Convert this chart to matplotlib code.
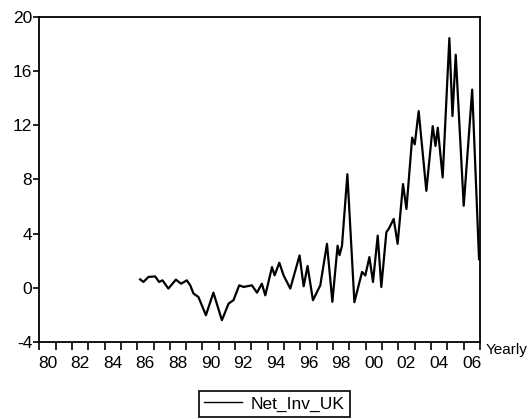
import matplotlib
matplotlib.use("Agg")
import matplotlib.pyplot as plt
from matplotlib.ticker import FixedLocator, NullFormatter

plt.rcParams['font.family'] = ['Liberation Sans', 'DejaVu Sans']
plt.rcParams['axes.unicode_minus'] = False

# Net_Inv_UK (x in decimal years)
years = [1986.18, 1986.38, 1986.69, 1987.10, 1987.34, 1987.55, 1987.91,
         1988.37, 1988.69, 1989.04, 1989.25, 1989.45, 1989.75, 1990.21,
         1990.67, 1991.19, 1991.60, 1991.90, 1992.25, 1992.52, 1993.03,
         1993.34, 1993.64, 1993.85, 1994.26, 1994.42, 1994.71, 1994.97,
         1995.38, 1995.95, 1996.20, 1996.44, 1996.77, 1997.22, 1997.63,
         1997.96, 1998.28, 1998.40, 1998.55, 1998.88, 1999.31, 1999.78,
         1999.98, 2000.23, 2000.45, 2000.74, 2000.96, 2001.27, 2001.41,
         2001.72, 2001.96, 2002.29, 2002.50, 2002.85, 2003.01, 2003.25,
         2003.72, 2004.11, 2004.28, 2004.42, 2004.72, 2005.13, 2005.32,
         2005.52, 2006.01, 2006.53, 2006.95]
net_inv_uk = [0.61, 0.42, 0.79, 0.83, 0.42, 0.54, -0.07,
              0.59, 0.29, 0.54, 0.17, -0.44, -0.69, -2.04,
              -0.37, -2.41, -1.18, -0.93, 0.17, 0.05, 0.17,
              -0.37, 0.29, -0.57, 1.52, 0.91, 1.84, 0.91,
              -0.07, 2.38, 0.10, 1.60, -0.93, 0.17, 3.24,
              -1.05, 3.10, 2.40, 3.10, 8.39, -1.08, 1.16,
              0.90, 2.26, 0.42, 3.85, 0.05, 4.10, 4.34,
              5.08, 3.24, 7.66, 5.82, 11.10, 10.60, 13.06,
              7.16, 11.95, 10.48, 11.83, 8.15, 18.46, 12.69,
              17.23, 6.06, 14.65, 2.10]

yticks = [-4, 0, 4, 8, 12, 16, 20]
year_ticks = list(range(1980, 2008))
label_years = list(range(1980, 2007, 2))
label_text = ['%02d' % (y % 100) for y in label_years]

fig = plt.figure(figsize=(5.32, 4.19), dpi=100)
ax = fig.add_axes([0.0739, 0.1845, 0.8281, 0.7742])

line, = ax.plot(years, net_inv_uk, color='black', lw=1.6, label='Net_Inv_UK',
                solid_joinstyle='round')

ax.set_xlim(1980, 2007)
ax.set_ylim(-4, 20)
ax.set_yticks(yticks)
ax.set_yticklabels([str(v) for v in yticks])

# ticks at each year start, labels centred in the middle of the year
ax.xaxis.set_major_locator(FixedLocator(year_ticks))
ax.xaxis.set_major_formatter(NullFormatter())
ax.xaxis.set_minor_locator(FixedLocator([y + 0.5 for y in label_years]))
ax.set_xticklabels(label_text, minor=True)
ax.tick_params(axis='x', which='major', direction='out', length=6, width=1.2)
ax.tick_params(axis='x', which='minor', length=0, pad=10, labelsize=12.5)
ax.tick_params(axis='y', direction='out', length=4, width=1.2, pad=1, labelsize=12.5)

for s in ax.spines.values():
    s.set_linewidth(1.3)

fig.text(486 / 532, 1 - 350 / 419, 'Yearly', fontsize=11, va='center', ha='left')

leg = fig.legend(handles=[line], loc='center', bbox_to_anchor=(0.516, 0.036),
                 frameon=True, fancybox=False, edgecolor='black', framealpha=1,
                 fontsize=12.5, handlelength=2.2, borderpad=0.3, handletextpad=0.5)
leg.get_frame().set_linewidth(1.2)
leg.get_lines()[0].set_linewidth(1.0)

fig.savefig('out.png', dpi=100)
